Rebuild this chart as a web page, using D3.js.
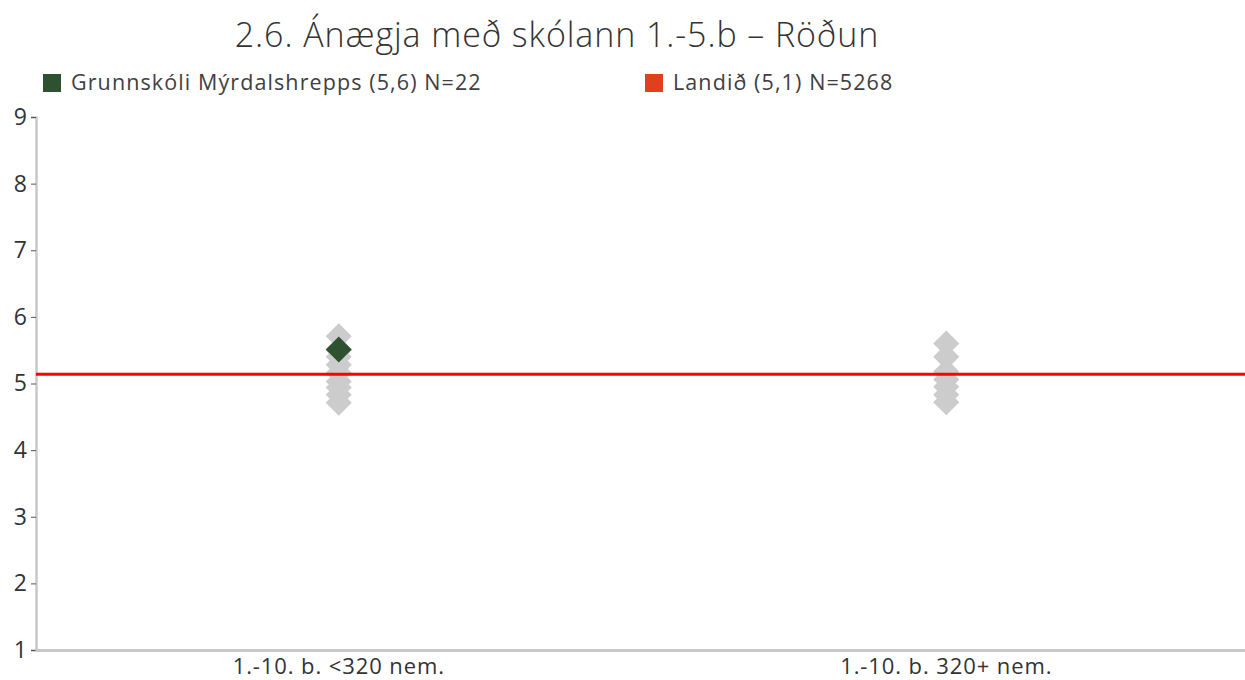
<!DOCTYPE html>
<html>
<head>
<meta charset="utf-8">
<script src="https://cdn.jsdelivr.net/npm/d3@7"></script>
<style>
  body { margin: 0; background: #fff; }
  svg { display: block; font-family: "Open Sans", sans-serif; }
</style>
</head>
<body>
<svg width="1245" height="680"></svg>
<script>
const categories = ['1.-10. b. <320 nem.', '1.-10. b. 320+ nem.'];
// other schools in each size group
const othersSmall = [5.71, 5.5, 5.4, 5.28, 5.16, 5.03, 4.94, 4.83, 4.71];
const othersLarge = [5.6, 5.4, 5.18, 5.06, 4.95, 4.83, 4.72];
const schoolValue = 5.51;
const schoolCategory = categories[0];
const nationalValue = 5.14;
const yTicks = [1, 2, 3, 4, 5, 6, 7, 8, 9];
const legendItems = ['Grunnskóli Mýrdalshrepps (5,6) N=22', 'Landið (5,1) N=5268'];
const title = '2.6. Ánægja með skólann 1.-5.b – Röðun';

const svg = d3.select('svg');
const width = +svg.attr('width');
const height = +svg.attr('height');
const margin = {top: 117, right: -5, bottom: 30, left: 35};

const xScale = d3.scaleBand()
    .domain(categories)
    .range([margin.left, width - margin.right]);

const yScale = d3.scaleLinear()
    .domain([1, 9])
    .range([height - margin.bottom, margin.top]);

const cx = c => xScale(c) + xScale.bandwidth() / 2;

// title
svg.append('text')
    .attr('x', 557).attr('y', 47)
    .attr('text-anchor', 'middle')
    .attr('font-size', 34)
    .attr('font-weight', 300)
    .attr('letter-spacing', 0.9)
    .attr('fill', '#333')
    .text(title);

// legend
const legendColors = ['#2e5230', '#e0401c'];
const legendX = [43, 645];
legendItems.forEach((t, i) => {
    const g = svg.append('g').attr('transform', `translate(${legendX[i]},74)`);
    g.append('rect').attr('width', 18).attr('height', 18).attr('fill', legendColors[i]);
    g.append('text').attr('x', 28).attr('y', 16)
        .attr('font-size', 21.5).attr('letter-spacing', 1.1).attr('fill', '#404040').text(t);
});

// y axis
const yAxis = svg.append('g')
    .attr('transform', `translate(${margin.left + 1},0)`)
    .call(d3.axisLeft(yScale).tickValues(yTicks).tickSize(5).tickPadding(4).tickFormat(d3.format('d')));
yAxis.select('.domain').attr('stroke', '#c8c8c8').attr('stroke-width', 2.5);
yAxis.selectAll('.tick line').attr('stroke', '#555');
yAxis.selectAll('.tick text').attr('font-size', 23).attr('fill', '#333').attr('font-family', '"Open Sans", sans-serif');

// x axis
const xAxis = svg.append('g')
    .attr('transform', `translate(0,${yScale(1)})`)
    .call(d3.axisBottom(xScale).tickSize(0).tickPadding(8));
xAxis.select('.domain').attr('stroke', '#c8c8c8').attr('stroke-width', 3);
xAxis.selectAll('.tick text').attr('font-size', 22).attr('letter-spacing', 0.9).attr('fill', '#333').attr('font-family', '"Open Sans", sans-serif');

const diamond = d3.symbol().type(d3.symbolSquare).size(340);

const others = [
    ...othersSmall.map(v => ({c: categories[0], v})),
    ...othersLarge.map(v => ({c: categories[1], v}))
];

svg.append('g').selectAll('path').data(others)
    .enter().append('path')
        .attr('d', diamond)
        .attr('transform', d => `translate(${cx(d.c)},${yScale(d.v)}) rotate(45)`)
        .attr('fill', '#cccccc');

// national average line
svg.append('line')
    .attr('x1', margin.left + 1).attr('x2', width)
    .attr('y1', yScale(nationalValue)).attr('y2', yScale(nationalValue))
    .attr('stroke', '#ff0000').attr('stroke-width', 3);

// school marker
svg.append('path')
    .attr('d', diamond)
    .attr('transform', `translate(${cx(schoolCategory)},${yScale(schoolValue)}) rotate(45)`)
    .attr('fill', '#2e5230');
</script>
</body>
</html>
